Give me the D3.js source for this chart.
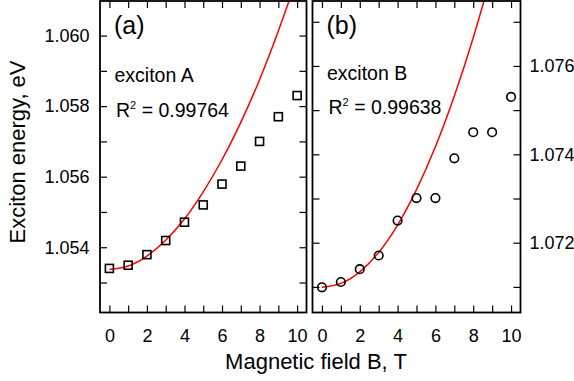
<!DOCTYPE html>
<html>
<head>
<meta charset="utf-8">
<script src="https://cdn.jsdelivr.net/npm/d3@7"></script>
<style>
  html, body { margin: 0; padding: 0; background: #fff; }
  svg text { font-family: "Liberation Sans", Arial, Helvetica, sans-serif; fill: #000; }
</style>
</head>
<body>
<div id="chart"></div>
<script>
// magnetic field, T
const fieldB = [0, 1, 2, 3, 4, 5, 6, 7, 8, 9, 10];
// exciton A measured energies, eV
const energyA = [1.0534, 1.05349, 1.05379, 1.05419, 1.05471, 1.0552, 1.05579, 1.0563, 1.0570, 1.0577, 1.0583];
// exciton B measured energies, eV
const energyB = [1.07099, 1.07111, 1.0714, 1.07171, 1.0725, 1.07301, 1.07301, 1.07391, 1.0745, 1.0745, 1.0753];
// fitted curves (clipped to the panel)
const fitA = [1.05337, 1.05347, 1.05375, 1.0542, 1.0548, 1.05557, 1.05648, 1.05754, 1.05875, 1.06013, 1.06162];
const fitB = [1.07099, 1.07108, 1.07134, 1.07178, 1.0724, 1.0732, 1.07417, 1.07532, 1.07664, 1.07814, 1.0798];

const xTicks = [0, 1, 2, 3, 4, 5, 6, 7, 8, 9, 10];
const xLabels = [0, 2, 4, 6, 8, 10];
const yTicksA = [1.053, 1.054, 1.055, 1.056, 1.057, 1.058, 1.059, 1.060];
const yLabelsA = [1.054, 1.056, 1.058, 1.060];
const yTicksB = [1.071, 1.072, 1.073, 1.074, 1.075, 1.076, 1.077];
const yLabelsB = [1.072, 1.074, 1.076];

const width = 574, height = 381;
const tickLen = 7;

const svg = d3.select('#chart').append('svg')
  .attr('width', width)
  .attr('height', height);

const panels = [
  { id: 'a', box: { x0: 100, x1: 306.5, y0: 1, y1: 312.5 }, yDomain: [1.05215, 1.06098],
    energy: energyA, fit: fitA, yTicks: yTicksA, yLabels: yLabelsA, labelSide: 'left',
    marker: 'square', tag: '(a)', name: 'exciton A', r2: '0.99764', nameY: 82, r2Y: 116.7 },
  { id: 'b', box: { x0: 312.5, x1: 520.5, y0: 1, y1: 312.5 }, yDomain: [1.07042, 1.07747],
    energy: energyB, fit: fitB, yTicks: yTicksB, yLabels: yLabelsB, labelSide: 'right',
    marker: 'circle', tag: '(b)', name: 'exciton B', r2: '0.99638', nameY: 80, r2Y: 114.3 }
];

panels.forEach(p => {
  const b = p.box;
  const x = d3.scaleLinear().domain([-0.5, 10.5]).range([b.x0, b.x1]);
  const y = d3.scaleLinear().domain(p.yDomain).range([b.y1, b.y0]);

  svg.append('clipPath').attr('id', 'clip-' + p.id)
    .append('rect')
    .attr('x', b.x0).attr('y', b.y0)
    .attr('width', b.x1 - b.x0).attr('height', b.y1 - b.y0);

  // ticks (all inward, mirrored on each side)
  const styleAxis = g => {
    g.select('.domain').remove();
    g.selectAll('.tick line').attr('stroke', '#000').attr('stroke-width', 1.2);
  };

  // bottom
  svg.append('g')
    .attr('transform', `translate(0,${b.y1})`)
    .call(d3.axisBottom(x).tickValues(xTicks).tickSize(-tickLen).tickFormat(''))
    .call(styleAxis);
  svg.append('g')
    .attr('transform', `translate(0,${b.y1})`)
    .call(d3.axisBottom(x).tickValues(xLabels).tickSize(0).tickPadding(17))
    .call(g => { g.select('.domain').remove(); g.selectAll('line').remove(); })
    .selectAll('text').attr('font-size', 18);
  // top
  svg.append('g')
    .attr('transform', `translate(0,${b.y0})`)
    .call(d3.axisTop(x).tickValues(xTicks).tickSize(-tickLen).tickFormat(''))
    .call(styleAxis);
  // left / right
  svg.append('g')
    .attr('transform', `translate(${b.x0},0)`)
    .call(d3.axisLeft(y).tickValues(p.yTicks).tickSize(-tickLen).tickFormat(''))
    .call(styleAxis);
  svg.append('g')
    .attr('transform', `translate(${b.x1},0)`)
    .call(d3.axisRight(y).tickValues(p.yTicks).tickSize(-tickLen).tickFormat(''))
    .call(styleAxis);

  // tick labels
  const labelAxis = p.labelSide === 'left'
    ? d3.axisLeft(y).tickValues(p.yLabels).tickSize(0).tickPadding(10.5).tickFormat(d3.format('.3f'))
    : d3.axisRight(y).tickValues(p.yLabels).tickSize(0).tickPadding(9).tickFormat(d3.format('.3f'));
  svg.append('g')
    .attr('transform', `translate(${p.labelSide === 'left' ? b.x0 : b.x1},0)`)
    .call(labelAxis)
    .call(g => { g.select('.domain').remove(); g.selectAll('line').remove(); })
    .selectAll('text').attr('font-size', 18);

  // fitted curve
  const line = d3.line()
    .x((d, i) => x(fieldB[i]))
    .y(d => y(d))
    .curve(d3.curveNatural);
  svg.append('path')
    .datum(p.fit)
    .attr('clip-path', `url(#clip-${p.id})`)
    .attr('d', line)
    .attr('fill', 'none')
    .attr('stroke', '#ff0000')
    .attr('stroke-width', 1.5);

  // data points
  const pts = svg.append('g').attr('class', 'points');
  if (p.marker === 'square') {
    const s = 8;
    pts.selectAll('rect').data(p.energy).enter().append('rect')
      .attr('x', (d, i) => x(fieldB[i]) - s / 2)
      .attr('y', d => y(d) - s / 2)
      .attr('width', s).attr('height', s)
      .attr('fill', 'none').attr('stroke', '#000').attr('stroke-width', 1.6);
  } else {
    pts.selectAll('circle').data(p.energy).enter().append('circle')
      .attr('cx', (d, i) => x(fieldB[i]))
      .attr('cy', d => y(d))
      .attr('r', 4.3)
      .attr('fill', 'none').attr('stroke', '#000').attr('stroke-width', 1.6);
  }

  // frame
  svg.append('rect')
    .attr('x', b.x0).attr('y', b.y0)
    .attr('width', b.x1 - b.x0).attr('height', b.y1 - b.y0)
    .attr('fill', 'none').attr('stroke', '#000').attr('stroke-width', 1.8);

  // annotations
  svg.append('text')
    .attr('x', b.x0 + 14).attr('y', 34)
    .attr('font-size', 25)
    .text(p.tag);
  svg.append('text')
    .attr('x', b.x0 + 14.5).attr('y', p.nameY)
    .attr('font-size', 19.5)
    .text(p.name);
  const r2 = svg.append('text')
    .attr('x', b.x0 + 16).attr('y', p.r2Y)
    .attr('font-size', 19.5);
  r2.append('tspan').text('R');
  r2.append('tspan').attr('font-size', 11).attr('dy', -8).text('2');
  r2.append('tspan').attr('dy', 8).text(' = ' + p.r2);
});

// axis titles
svg.append('text')
  .attr('x', 316).attr('y', 369)
  .attr('text-anchor', 'middle')
  .attr('font-size', 22)
  .text('Magnetic field B, T');

svg.append('text')
  .attr('transform', 'translate(25,152) rotate(-90)')
  .attr('text-anchor', 'middle')
  .attr('font-size', 22)
  .text('Exciton energy, eV');
</script>
</body>
</html>
